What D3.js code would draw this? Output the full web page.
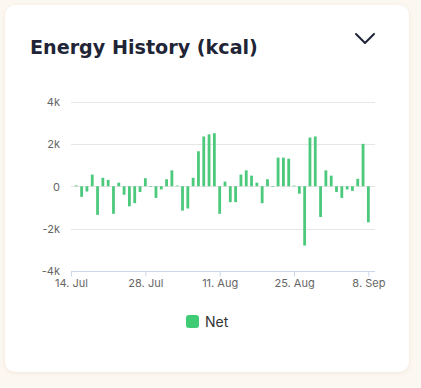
<!DOCTYPE html>
<html>
<head>
<meta charset="utf-8">
<script src="https://cdn.jsdelivr.net/npm/d3@7/dist/d3.min.js"></script>
<style>
  html, body { margin: 0; padding: 0; background: #fcf7f1; }
  body { width: 421px; height: 388px; overflow: hidden; }
  svg { display: block; }
</style>
</head>
<body>
<svg id="chart" width="421" height="388"></svg>
<script>
// ---- data ----
const startDate = "2024-07-15";
const netValues = [
  40, -500, -250, 550, -1350, 400, 300, -1300, 170, -400, -950, -800, -270, 380,
  0, -550, -150, 330, 750, 30, -1150, -1050, 400, 1650, 2350, 2450, 2500, -1300,
  220, -750, -750, 550, 750, 500, 170, -800, 330, 0, 1350, 1350, 1300, 30,
  -350, -2800, 2300, 2350, -1450, 750, 500, -270, -550, -150, -220, 350, 2000, -1700
];
const yTicks = [-4000, -2000, 0, 2000, 4000];
const yTickLabels = ["-4k", "-2k", "0", "2k", "4k"];
const xTickDates = ["2024-07-14", "2024-07-28", "2024-08-11", "2024-08-25", "2024-09-08"];
const xTickLabels = ["14. Jul", "28. Jul", "11. Aug", "25. Aug", "8. Sep"];
const seriesName = "Net";
const title = "Energy History (kcal)";

// ---- build ----
const parse = d3.utcParse("%Y-%m-%d");
const day0 = parse(startDate);
const data = netValues.map((v, i) => ({ date: d3.utcDay.offset(day0, i), value: v }));

const svg = d3.select("#chart");
const defs = svg.append("defs");
const f = defs.append("filter").attr("id", "sh").attr("x", "-10%").attr("y", "-10%").attr("width", "120%").attr("height", "120%");
f.append("feDropShadow").attr("dx", 0).attr("dy", 1).attr("stdDeviation", 2).attr("flood-color", "#e8dccb").attr("flood-opacity", 0.6);

// card
svg.append("rect").attr("x", 5).attr("y", 5).attr("width", 404).attr("height", 367)
  .attr("rx", 10).attr("fill", "#ffffff").attr("filter", "url(#sh)");

// title
const t = svg.append("text").attr("x", 30).attr("y", 54)
  .attr("font-family", "'DejaVu Sans', sans-serif").attr("font-weight", "bold")
  .attr("font-size", 18).attr("fill", "#1f2536").text(title);
// fit title to reference width
const tw = t.node().getComputedTextLength();
t.attr("font-size", 18 * 228 / tw);

// chevron
svg.append("path").attr("d", "M356,34 L365,43 L374,34").attr("fill", "none")
  .attr("stroke", "#1f2536").attr("stroke-width", 2).attr("stroke-linecap", "round").attr("stroke-linejoin", "round");

// scales
const x = d3.scaleUtc()
  .domain([parse("2024-07-14"), d3.utcHour.offset(parse("2024-09-09"), 6)])
  .range([71, 375]);
const y = d3.scaleLinear().domain([-4000, 4000]).range([271, 101.5]);

// grid
const grid = svg.append("g");
grid.selectAll("line").data(yTicks.filter(d => d !== -4000)).join("line")
  .attr("x1", 71).attr("x2", 375)
  .attr("y1", d => Math.round(y(d)) + 0.5).attr("y2", d => Math.round(y(d)) + 0.5)
  .attr("stroke", "#e6e6e6").attr("stroke-width", 1);

// y axis
const yAxis = d3.axisLeft(y).tickValues(yTicks).tickSize(0).tickPadding(0)
  .tickFormat((d, i) => yTickLabels[i]);
const gy = svg.append("g").attr("transform", "translate(60,0)").call(yAxis);
gy.select(".domain").remove();
gy.selectAll("text").attr("font-family", "Inter, sans-serif").attr("font-size", 11)
  .attr("fill", "#666666").attr("dy", "0.35em");

// bars
svg.append("g").selectAll("rect").data(data).join("rect")
  .attr("x", d => x(d.date) - 1.4)
  .attr("width", 2.8)
  .attr("y", d => y(Math.max(0, d.value)))
  .attr("height", d => Math.max(0.6, Math.abs(y(d.value) - y(0))))
  .attr("fill", "#4cc97c");

// x axis
const xAxis = d3.axisBottom(x).tickValues(xTickDates.map(parse)).tickSize(5).tickPadding(3)
  .tickFormat((d, i) => xTickLabels[i]);
const gx = svg.append("g").attr("transform", "translate(0,271.5)").call(xAxis);
gx.select(".domain").attr("d", "M71,0 H375").attr("stroke", "#ccd6eb");
gx.selectAll(".tick line").attr("stroke", "#ccd6eb");
gx.selectAll("text").attr("font-family", "Inter, sans-serif").attr("font-size", 11)
  .attr("fill", "#666666");

// legend
const lg = svg.append("g");
lg.append("rect").attr("x", 186).attr("y", 315).attr("width", 13).attr("height", 13)
  .attr("rx", 3).attr("fill", "#40cc74");
lg.append("text").attr("x", 205).attr("y", 327).attr("font-family", "Inter, sans-serif")
  .attr("font-size", 14).attr("fill", "#333333").text(seriesName);
</script>
</body>
</html>
